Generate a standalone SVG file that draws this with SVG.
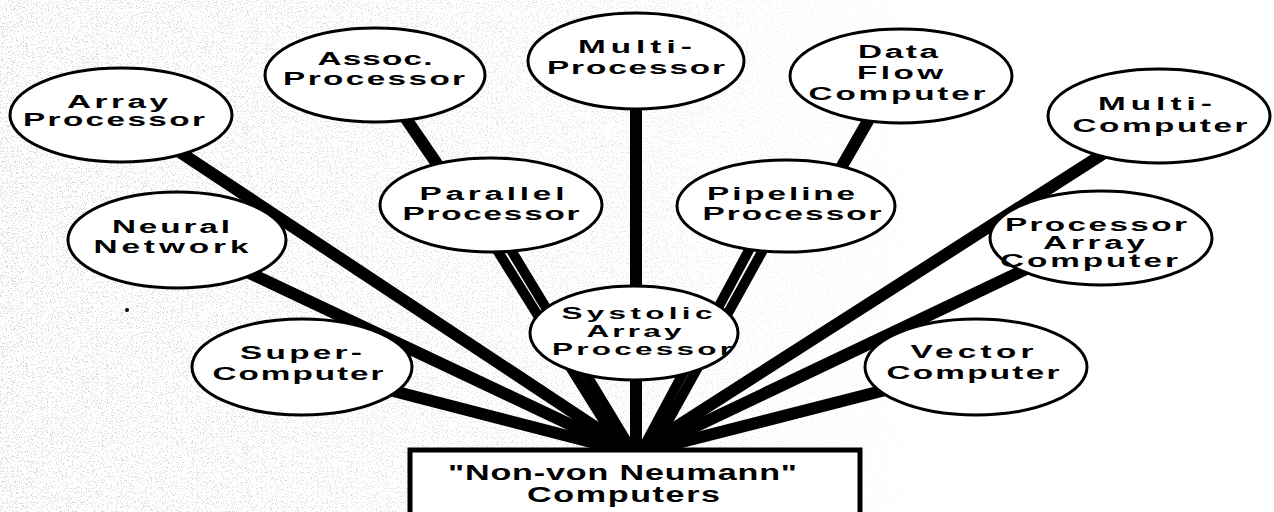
<svg xmlns="http://www.w3.org/2000/svg" width="1274" height="512" viewBox="0 0 1274 512">
  <defs>
    <style>
      .bg { fill: #ffffff; }
      .node ellipse { fill: #ffffff; stroke: #000000; stroke-width: 3; }
      .lbl { font-family: "Liberation Sans", Arial, Helvetica, sans-serif; font-weight: bold; font-size: 18px; fill: #000000; text-anchor: middle; }
      .sm { font-size: 17px; }
      .big { font-size: 22px; }
      .wire { fill: none; stroke: #000000; stroke-width: 12; stroke-linecap: butt; }
      .wire.thin { stroke-width: 10; }
      .base rect { fill: #ffffff; stroke: #000000; stroke-width: 5; }
    </style>
    <!-- paper grain of the printed page -->
    <filter id="grain" x="0" y="0" width="1274" height="512" filterUnits="userSpaceOnUse" color-interpolation-filters="sRGB">
      <feTurbulence type="fractalNoise" baseFrequency="0.8" numOctaves="2" seed="7" result="n"/>
      <feColorMatrix in="n" type="matrix" values="0 0 0 0 0.5  0 0 0 0 0.5  0 0 0 0 0.5  7 0 0 0 -3.9"/>
    </filter>
    <linearGradient id="fade" x1="0" y1="0" x2="1" y2="0">
      <stop offset="0" stop-color="#fff" stop-opacity="1"/>
      <stop offset="0.5" stop-color="#fff" stop-opacity="0.6"/>
      <stop offset="0.75" stop-color="#fff" stop-opacity="0"/>
    </linearGradient>
    <mask id="grainMask">
      <rect x="0" y="0" width="1274" height="512" fill="url(#fade)"/>
    </mask>
  </defs>

  <rect class="bg" x="0" y="0" width="1274" height="512"/>
  <g mask="url(#grainMask)" opacity="0.35">
    <rect x="0" y="0" width="1274" height="512" fill="#fff" filter="url(#grain)"/>
  </g>
  <circle cx="127" cy="310" r="2" fill="#000"/>

  <!-- spokes running down into the base box -->
  <g id="connectors">
    <path class="wire" d="M160 139 L630 450"/>
    <path class="wire" d="M220 259 L624 450"/>
    <path class="wire" d="M370 385 L622 450"/>
    <path class="wire" d="M400 110 L448 180"/>
    <path class="wire thin" d="M484.5 230 L622 450"/>
    <path class="wire thin" d="M498.9 230 L632 450"/>
    <path class="wire" d="M636 90 L636 450"/>
    <path class="wire" d="M880 100 L834 180"/>
    <path class="wire thin" d="M759.7 230 L642 450"/>
    <path class="wire thin" d="M774.1 230 L652 450"/>
    <path class="wire" d="M1120 143 L640 450"/>
    <path class="wire" d="M1045 260 L646 450"/>
    <path class="wire" d="M905 385 L650 450"/>
  </g>

  <g id="array-processor" class="node">
    <ellipse cx="121" cy="115" rx="111" ry="47"/>
    <text class="lbl" transform="scale(1.85,1)" x="63.5" y="108" textLength="54.6" lengthAdjust="spacing">Array</text>
    <text class="lbl" transform="scale(1.85,1)" x="61.6" y="126" textLength="98.4" lengthAdjust="spacing">Processor</text>
  </g>

  <g id="assoc-processor" class="node">
    <ellipse cx="375" cy="75" rx="110" ry="47"/>
    <text class="lbl" transform="scale(1.85,1)" x="202.7" y="65" textLength="62.2" lengthAdjust="spacing">Assoc.</text>
    <text class="lbl" transform="scale(1.85,1)" x="202.2" y="85" textLength="98.4" lengthAdjust="spacing">Processor</text>
  </g>

  <g id="multi-processor" class="node">
    <ellipse cx="636" cy="61" rx="108" ry="48"/>
    <text class="lbl" transform="scale(1.85,1)" x="343.2" y="53" textLength="61.6" lengthAdjust="spacing">Multi-</text>
    <text class="lbl" transform="scale(1.85,1)" x="343.8" y="74" textLength="96.2" lengthAdjust="spacing">Processor</text>
  </g>

  <g id="data-flow-computer" class="node">
    <ellipse cx="901" cy="76" rx="111" ry="47"/>
    <text class="lbl" transform="scale(1.85,1)" x="485.4" y="58" textLength="43.2" lengthAdjust="spacing">Data</text>
    <text class="lbl" transform="scale(1.85,1)" x="486.5" y="79" textLength="46.5" lengthAdjust="spacing">Flow</text>
    <text class="lbl" transform="scale(1.85,1)" x="484.9" y="100" textLength="95.7" lengthAdjust="spacing">Computer</text>
  </g>

  <g id="multi-computer" class="node">
    <ellipse cx="1159" cy="116" rx="111" ry="47"/>
    <text class="lbl" transform="scale(1.85,1)" x="624.3" y="110" textLength="61.6" lengthAdjust="spacing">Multi-</text>
    <text class="lbl" transform="scale(1.85,1)" x="627" y="132" textLength="94.6" lengthAdjust="spacing">Computer</text>
  </g>

  <g id="neural-network" class="node">
    <ellipse cx="177" cy="240" rx="109" ry="48"/>
    <text class="lbl" transform="scale(1.85,1)" x="92.4" y="233" textLength="63.8" lengthAdjust="spacing">Neural</text>
    <text class="lbl" transform="scale(1.85,1)" x="92.4" y="253" textLength="83.8" lengthAdjust="spacing">Network</text>
  </g>

  <g id="parallel-processor" class="node">
    <ellipse cx="491" cy="205" rx="111" ry="47"/>
    <text class="lbl" transform="scale(1.85,1)" x="265.9" y="200" textLength="78.4" lengthAdjust="spacing">Parallel</text>
    <text class="lbl" transform="scale(1.85,1)" x="265.4" y="220" textLength="95.7" lengthAdjust="spacing">Processor</text>
  </g>

  <g id="pipeline-processor" class="node">
    <ellipse cx="786" cy="206" rx="109" ry="46"/>
    <text class="lbl" transform="scale(1.85,1)" x="422.2" y="200" textLength="80" lengthAdjust="spacing">Pipeline</text>
    <text class="lbl" transform="scale(1.85,1)" x="428.1" y="220" textLength="96.8" lengthAdjust="spacing">Processor</text>
  </g>

  <g id="processor-array-computer" class="node">
    <ellipse cx="1101" cy="238" rx="111" ry="47"/>
    <text class="lbl" transform="scale(1.85,1)" x="592.4" y="231" textLength="98.4" lengthAdjust="spacing">Processor</text>
    <text class="lbl" transform="scale(1.85,1)" x="591.4" y="249" textLength="55.1" lengthAdjust="spacing">Array</text>
    <text class="lbl" transform="scale(1.85,1)" x="588.6" y="267" textLength="96.2" lengthAdjust="spacing">Computer</text>
  </g>

  <g id="super-computer" class="node">
    <ellipse cx="302" cy="367" rx="110" ry="48"/>
    <text class="lbl" transform="scale(1.85,1)" x="162.7" y="359" textLength="65.9" lengthAdjust="spacing">Super-</text>
    <text class="lbl" transform="scale(1.85,1)" x="161.1" y="380" textLength="92.4" lengthAdjust="spacing">Computer</text>
  </g>

  <g id="vector-computer" class="node">
    <ellipse cx="976" cy="367" rx="111" ry="48"/>
    <text class="lbl" transform="scale(1.85,1)" x="525.4" y="358" textLength="66.5" lengthAdjust="spacing">Vector</text>
    <text class="lbl" transform="scale(1.85,1)" x="525.9" y="379" textLength="93.5" lengthAdjust="spacing">Computer</text>
  </g>

  <g id="systolic-array-processor" class="node">
    <ellipse cx="634" cy="333" rx="104" ry="47"/>
    <text class="lbl sm" transform="scale(1.85,1)" x="344.3" y="319" textLength="81.6" lengthAdjust="spacing">Systolic</text>
    <text class="lbl sm" transform="scale(1.85,1)" x="342.7" y="337" textLength="51.4" lengthAdjust="spacing">Array</text>
    <text class="lbl sm" transform="scale(1.85,1)" x="347" y="355" textLength="97.3" lengthAdjust="spacing">Processor</text>
  </g>

  <g id="non-von-neumann-computers" class="base">
    <rect x="410" y="450" width="450" height="80"/>
    <text class="lbl big" transform="scale(1.55,1)" x="401.6" y="480" textLength="225.2" lengthAdjust="spacing">"Non-von Neumann"</text>
    <text class="lbl big" transform="scale(1.55,1)" x="402.3" y="502" textLength="124.5" lengthAdjust="spacing">Computers</text>
  </g>
</svg>
